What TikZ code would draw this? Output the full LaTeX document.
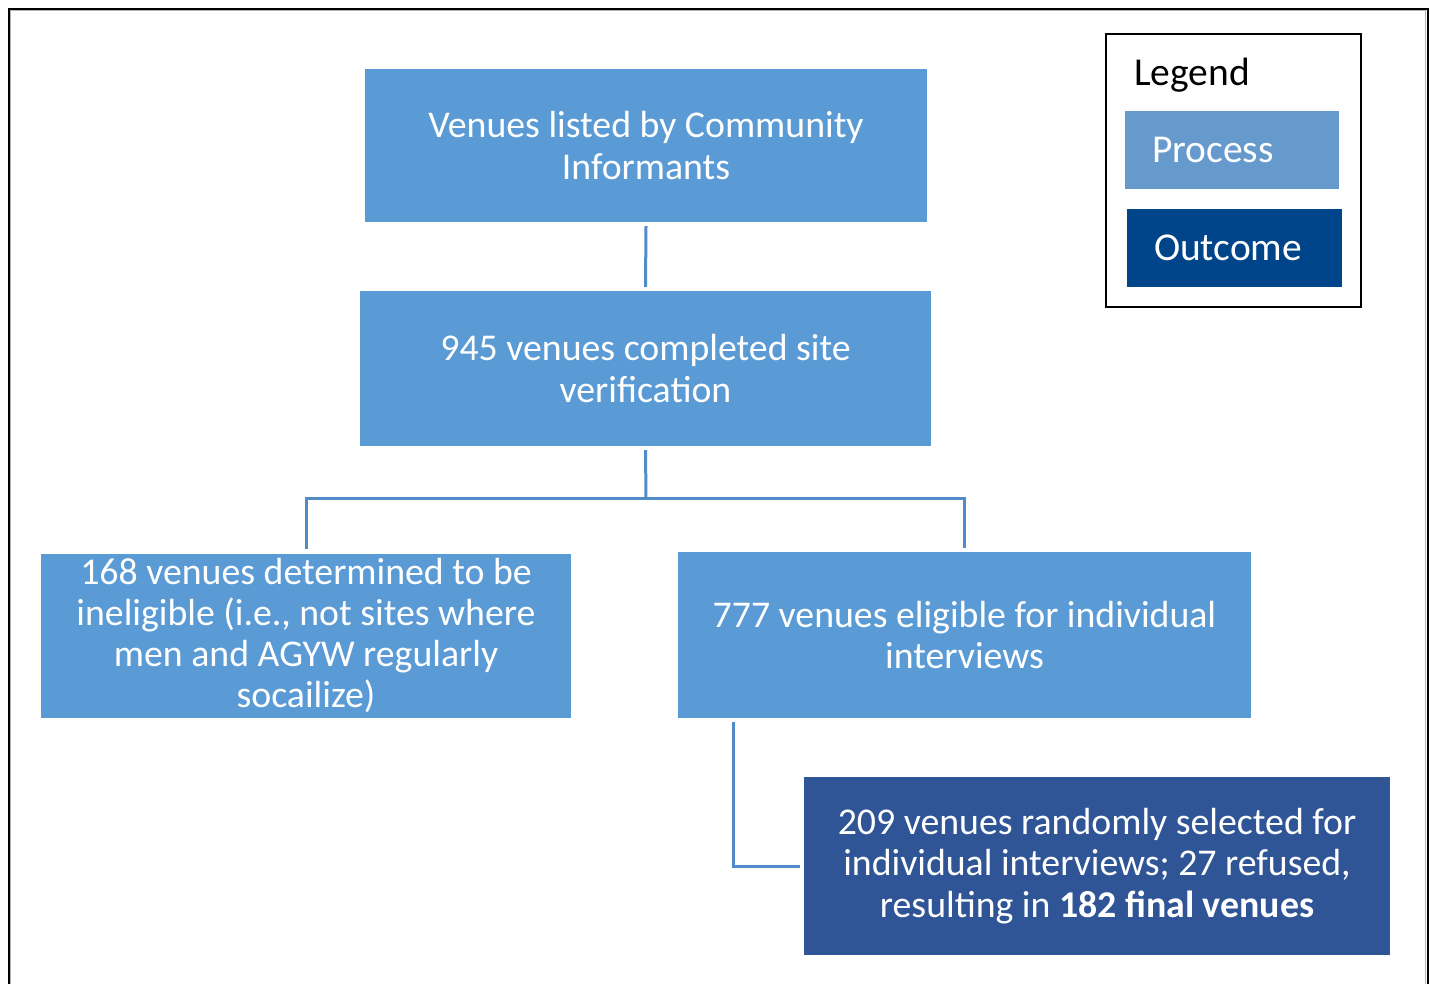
\documentclass[tikz,border=0pt]{standalone}
\usepackage{fontspec}
\setmainfont{Carlito}
\definecolor{procblue}{HTML}{5B9BD5}
\definecolor{outblue}{HTML}{2F5597}
\definecolor{linkblue}{HTML}{4F8CC9}
\definecolor{legproc}{HTML}{6699CC}
\definecolor{legout}{HTML}{00448A}
\tikzset{
  stage/.style={fill=procblue, text=white, inner sep=0pt, align=center,
    font=\fontsize{37.8}{41.3}\selectfont},
  result/.style={stage, fill=outblue},
  link/.style={draw=linkblue, line width=3pt},
  legendswatch/.style={inner xsep=27pt, inner ysep=0pt, text=white, align=left,
    font=\fontsize{39.5}{44}\selectfont}
}
\begin{document}
\begin{tikzpicture}[x=1pt, y=-1pt]
\useasboundingbox (0,0) rectangle (1430,983);
% page frame (its lower edge runs off the page)
\draw[gray!60, line width=1.2pt] (10.5,1000) -- (10.5,10.5) -- (1425.5,10.5) -- (1425.5,1000);
\draw[black, line width=2pt] (8.5,1000) -- (8.5,8.5) -- (1427.5,8.5) -- (1427.5,1000);

% flow stages
\node[stage, minimum width=562pt, minimum height=153pt] (b1) at (646,145.5)
  {Venues listed by Community\\Informants};
\node[stage, minimum width=571pt, minimum height=155pt] (b2) at (645.5,368.5)
  {945 venues completed site\\verification};
\node[stage, minimum width=530pt, minimum height=164pt] (b3) at (306,635.5)
  {168 venues determined to be\\ineligible (i.e., not sites where\\men and AGYW regularly\\socailize)};
\node[stage, minimum width=573pt, minimum height=166pt] (b4) at (964.5,635)
  {777 venues eligible for individual\\interviews};
\node[result, minimum width=586pt, minimum height=178pt] (b5) at (1097,866)
  {209 venues randomly selected for\\individual interviews; 27 refused,\\resulting in \textbf{182 final venues}};

% connectors
\draw[link] ([yshift=-4pt]b1.south) -- ([yshift=4pt]b2.north);
\coordinate (split) at (646,498);
\draw[link] ([yshift=-4pt]b2.south) -- (split);
\draw[link] ([yshift=4pt]b3.north) |- (split) -| ([yshift=4pt]b4.north);
\draw[link] ([xshift=56pt,yshift=-4pt]b4.south west) |- ([xshift=-4pt]b5.west);

% legend
\node[draw=black, line width=2.2pt, minimum width=255pt, minimum height=273pt, inner sep=0pt] (leg) at (1233.5,170.5) {};
\node[anchor=west, inner sep=0pt, font=\fontsize{39.5}{44}\selectfont] (legtitle) at (1134,75) {Legend};
\node[legendswatch, fill=legproc, minimum width=214pt, minimum height=78pt, text width=160pt] (lp) at (1232,150) {Process};
\node[legendswatch, fill=legout, minimum width=215pt, minimum height=78pt, text width=161pt] (lo) at (1234.5,248) {Outcome};
\end{tikzpicture}
\end{document}
